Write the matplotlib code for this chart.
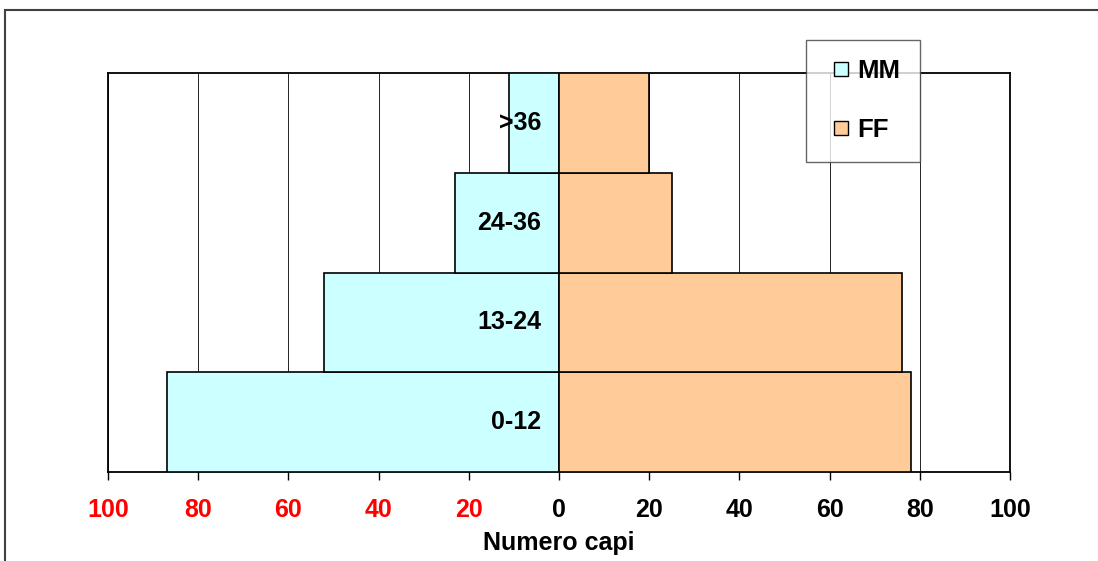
import matplotlib
matplotlib.use("Agg")
import matplotlib.pyplot as plt
from matplotlib.patches import Rectangle
from matplotlib.lines import Line2D
from matplotlib.ticker import FuncFormatter

categories = ["0-12", "13-24", "24-36", ">36"]
mm_values = [87, 52, 23, 11]
ff_values = [78, 76, 25, 20]
xticks = [-100, -80, -60, -40, -20, 0, 20, 40, 60, 80, 100]
series_names = ["MM", "FF"]
series_colors = ['#CCFFFF', '#FFCC99']

plt.rcParams['font.family'] = ['Liberation Sans', 'DejaVu Sans']
plt.rcParams['font.weight'] = 'bold'

fig = plt.figure(figsize=(10.98, 5.61), dpi=100)
ax = fig.add_axes([108/1098, 1-472/561, (1010-108)/1098, (472-73)/561])

y = list(range(len(categories)))
ax.barh(y, [-v for v in mm_values], height=1.0, color=series_colors[0], edgecolor='black', linewidth=1.2, zorder=3)
ax.barh(y, ff_values, height=1.0, color=series_colors[1], edgecolor='black', linewidth=1.2, zorder=3)

ax.set_xlim(-100, 100)
ax.set_ylim(-0.5, len(categories)-0.5)
ax.set_xticks(xticks)
ax.xaxis.set_major_formatter(FuncFormatter(lambda v, p: f"{abs(int(v))}"))
ax.tick_params(axis='x', direction='out', length=6, width=1, labelsize=18, pad=13, colors='black')
for lbl, v in zip(ax.get_xticklabels(), xticks):
    lbl.set_fontweight('bold')
    lbl.set_color('red' if v < 0 else 'black')
ax.set_yticks([])
ax.grid(axis='x', color='black', linewidth=0.6, zorder=0)
for s in ax.spines.values():
    s.set_linewidth(1.3)
    s.set_color('black')

for i, c in enumerate(categories):
    ax.annotate(c, xy=(0, i), xytext=(-18, 0), textcoords='offset pixels',
                ha='right', va='center', fontsize=18, fontweight='bold', zorder=5)

ax.set_xlabel("Numero capi", fontsize=18, fontweight='bold', labelpad=6)

handles = [Line2D([], [], linestyle='None', marker='s', markersize=10, markerfacecolor=c,
                  markeredgecolor='black', markeredgewidth=1.0) for c in series_colors]
leg = fig.legend(handles, series_names, loc='upper left', bbox_to_anchor=(806/1098, 1-40/561),
                 frameon=True, fancybox=False, edgecolor='#404040',
                 prop={'weight': 'bold', 'size': 18.5}, handlelength=1.25,
                 labelspacing=1.37, borderpad=0.75, handletextpad=0.0, borderaxespad=0)
leg.get_frame().set_linewidth(1.0)

fig.patches.append(Rectangle((5/1098, -0.1), 2.0, (561-10)/561 + 0.1, transform=fig.transFigure,
                             fill=False, edgecolor='#404040', linewidth=1.5))

fig.savefig("out.png", dpi=100)
